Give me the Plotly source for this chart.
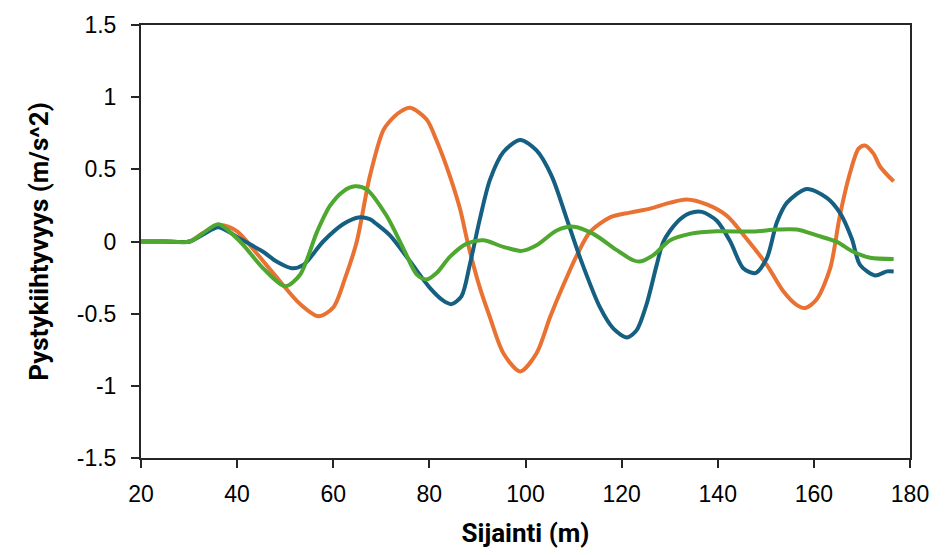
import plotly.graph_objects as go

# Sijainti (m) and vertical acceleration (m/s^2) for three runs
x_orange = [20, 25, 30, 33, 36.5, 40, 44, 48.9, 53, 56.9, 60.0, 62.5, 64.9, 67.6, 70.4, 71.8, 74, 76.0,
            79.4, 81.5, 84.3, 86.4, 88.1, 90.5, 92.6, 95.4, 98.9, 102.3, 105.1, 107.9, 110.7, 113.4,
            117.6, 121.7, 125.9, 130.1, 133.5, 137.7, 141.9, 146.0, 150.2, 153.6, 156.4, 158.2,
            160.6, 163.4, 165.4, 167.5, 169.3, 170.6, 172.4, 173.8, 176.6]
y_orange = [0.0, 0.0, 0.0, 0.06, 0.115, 0.07, -0.08, -0.275, -0.43, -0.518, -0.457, -0.25, 0.0, 0.45,
            0.77, 0.835, 0.9, 0.926, 0.847, 0.70, 0.45, 0.223, -0.026, -0.32, -0.525, -0.774, -0.90,
            -0.774, -0.525, -0.30, -0.094, 0.065, 0.167, 0.20, 0.228, 0.269, 0.291, 0.257, 0.178,
            0.019, -0.162, -0.343, -0.439, -0.461, -0.40, -0.185, 0.178, 0.473, 0.643, 0.665,
            0.609, 0.518, 0.416]

x_blue = [20, 25, 30.2, 33, 36.1, 40.6, 45.4, 48.2, 51.4, 53.8, 57.9, 62.1, 65.2, 67.6, 69.0, 71.8,
          76.0, 80.1, 82.9, 84.6, 86.7, 88.4, 90.5, 92.6, 95.4, 98.9, 102.3, 105.5, 108.6, 111.4,
          115.5, 118.3, 121.1, 123.1, 125.2, 127.3, 128.7, 131.5, 134.2, 136.7, 139.8, 142.6,
          145.3, 147.8, 150.2, 152.3, 154.4, 158.5, 162.7, 165.4, 167.9, 169.6, 172.7, 175.2, 176.6]
y_blue = [0.0, 0.0, 0.0, 0.05, 0.099, 0.019, -0.071, -0.139, -0.185, -0.162, 0.0, 0.121, 0.167,
          0.155, 0.121, 0.042, -0.139, -0.321, -0.41, -0.434, -0.378, -0.162, 0.155, 0.427, 0.62,
          0.704, 0.631, 0.45, 0.155, -0.117, -0.457, -0.604, -0.665, -0.616, -0.434, -0.162, 0.0,
          0.133, 0.196, 0.205, 0.144, 0.0, -0.185, -0.219, -0.117, 0.133, 0.269, 0.364, 0.303,
          0.20, 0.019, -0.162, -0.235, -0.207, -0.207]

x_green = [20, 25, 30.2, 33, 36.1, 40.6, 45.4, 50.0, 53.1, 56.6, 59.3, 62.1, 64.5, 67.0, 71.1, 74.6,
           77.4, 79.4, 81.5, 84.3, 87.8, 91.2, 95.4, 99.2, 102.3, 106.5, 110.0, 114.1, 119.0,
           122.4, 123.8, 126.6, 130.1, 134.2, 139.8, 147.4, 152.3, 156.5, 160.6, 164.8, 168.2,
           171.7, 176.6]
y_green = [0.0, 0.0, 0.0, 0.06, 0.12, 0.0, -0.185, -0.31, -0.23, 0.065, 0.246, 0.348, 0.382, 0.36,
           0.178, -0.049, -0.23, -0.264, -0.219, -0.105, -0.015, 0.008, -0.037, -0.065, -0.026,
           0.076, 0.103, 0.053, -0.06, -0.13, -0.139, -0.094, 0.008, 0.053, 0.071, 0.069, 0.083,
           0.083, 0.042, -0.003, -0.071, -0.112, -0.121]

x_ticks = [20, 40, 60, 80, 100, 120, 140, 160, 180]
y_ticks = [-1.5, -1, -0.5, 0, 0.5, 1, 1.5]
y_tick_text = ["-1.5", "-1", "-0.5", "0", "0.5", "1", "1.5"]

series = [
    (x_orange, y_orange, "#E97132"),
    (x_blue, y_blue, "#156082"),
    (x_green, y_green, "#4EA72E"),
]

fig = go.Figure()
for xs, ys, color in series:
    fig.add_trace(go.Scatter(
        x=xs, y=ys, mode="lines",
        line=dict(color=color, width=4, shape="spline", smoothing=0.8),
        showlegend=False, hoverinfo="skip",
    ))

axis_color = "#262626"
tick_font = dict(family="Liberation Sans, Arial, sans-serif", size=23, color="#000000")
title_font = dict(family="Roboto, Arial, sans-serif", size=26, color="#000000")

fig.update_layout(
    width=947, height=555,
    margin=dict(l=141, r=37, t=19, b=95),
    paper_bgcolor="white", plot_bgcolor="white",
    xaxis=dict(
        range=[20, 180], tickmode="array", tickvals=x_ticks,
        ticktext=[str(v) for v in x_ticks],
        showgrid=False, zeroline=False,
        showline=True, linecolor=axis_color, linewidth=2, mirror=True,
        ticks="outside", ticklen=8, tickwidth=2, tickcolor=axis_color,
        tickfont=tick_font, ticklabelstandoff=6,
        title=dict(text="<b>Sijainti (m)</b>", font=title_font, standoff=18),
    ),
    yaxis=dict(
        range=[-1.5, 1.5], tickmode="array", tickvals=y_ticks, ticktext=y_tick_text,
        showgrid=False, zeroline=False,
        showline=True, linecolor=axis_color, linewidth=2, mirror=True,
        ticks="outside", ticklen=8, tickwidth=2, tickcolor=axis_color,
        tickfont=tick_font, ticklabelstandoff=10,
        title=dict(text="<b>Pystykiihtyvyys (m/s^2)</b>", font=title_font, standoff=21),
    ),
)

fig.write_html("out.html")
